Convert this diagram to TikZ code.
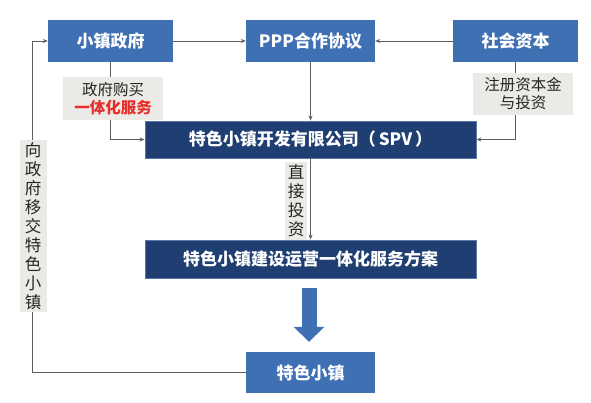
\documentclass[tikz,border=0pt]{standalone}
\usepackage{fontspec}
\setmainfont{Noto Sans CJK SC}
\usetikzlibrary{arrows.meta,calc}
\definecolor{midblue}{HTML}{4070B4}
\definecolor{navy}{HTML}{1F3E72}
\definecolor{navyedge}{HTML}{5A7BA8}
\definecolor{lblbg}{HTML}{ECEAE6}
\definecolor{redtxt}{HTML}{E5302E}
\definecolor{linegray}{HTML}{5E5E5E}
\begin{document}
\begin{tikzpicture}[x=1pt,y=-1pt,
  bluebox/.style={fill=midblue,draw=none,text=white,font=\fontsize{17}{19}\selectfont\bfseries,minimum width=125pt,minimum height=42pt,inner sep=0pt},
  navybox/.style={fill=navy,draw=navyedge,line width=0.8pt,text=white,font=\fontsize{17}{19}\selectfont\bfseries,minimum width=331pt,minimum height=37pt,inner sep=0pt},
  lblbox/.style={fill=lblbg,draw=none,text=black!85,font=\fontsize{15.5}{19}\selectfont,align=center,inner sep=0pt},
  vlbl/.style={fill=lblbg,draw=none,text=black!85,font=\fontsize{16.5}{19}\selectfont,align=center,inner sep=0pt},
  conn/.style={draw=linegray,line width=0.9pt,-{Stealth[length=5pt,width=4pt]}}
]
\useasboundingbox[fill=white] (0,0) rectangle (591,402);
\node[bluebox] (gov) at (110.5,41) {小镇政府};
\node[bluebox,minimum width=129pt] (ppp) at (310.5,41) {PPP合作协议};
\node[bluebox] (cap) at (515.5,41) {社会资本};
\node[navybox] (spv) at (310.5,139.5) {特色小镇开发有限公司（\,SPV\,）};
\node[navybox,minimum height=38pt] (plan) at (310.5,259) {特色小镇建设运营一体化服务方案};
\node[bluebox,minimum width=129pt,minimum height=41pt] (town) at (310.5,372.5) {特色小镇};

\draw[conn] (gov.east) -- (ppp.west);
\draw[conn] (cap.west) -- (ppp.east);
\draw[conn] (ppp.south) -- (spv.north);
\draw[conn] (gov.south) |- (spv.west);
\draw[conn] (cap.south) |- (spv.east);
\draw[conn] (spv.south) -- (plan.north);
\coordinate (lx) at (32.5,0);
\draw[conn] (town.west) -- (lx |- town.west) -- (lx |- gov.west) -- (gov.west);

\node[lblbox,minimum width=100pt,minimum height=43pt] (l1) at (113,98.5) {政府购买\\[-1pt]{\color{redtxt}\bfseries 一体化服务}};
\node[lblbox,minimum width=100pt,minimum height=42pt] (l2) at (523,94) {注册资本金\\[-1pt]与投资};
\node[vlbl,minimum width=22pt,minimum height=78pt] (l3) at (296,201) {直\\接\\投\\资};
\node[vlbl,minimum width=27pt,minimum height=172pt] (l4) at (33,226) {向\\政\\府\\移\\交\\特\\色\\小\\镇};

\draw[midblue,line width=15pt,-{Triangle[width=30pt,length=15pt]}] ($(plan.south)+(-1.5,10)$) -- ($(town.north)+(-1.5,-10)$);
\end{tikzpicture}
\end{document}
